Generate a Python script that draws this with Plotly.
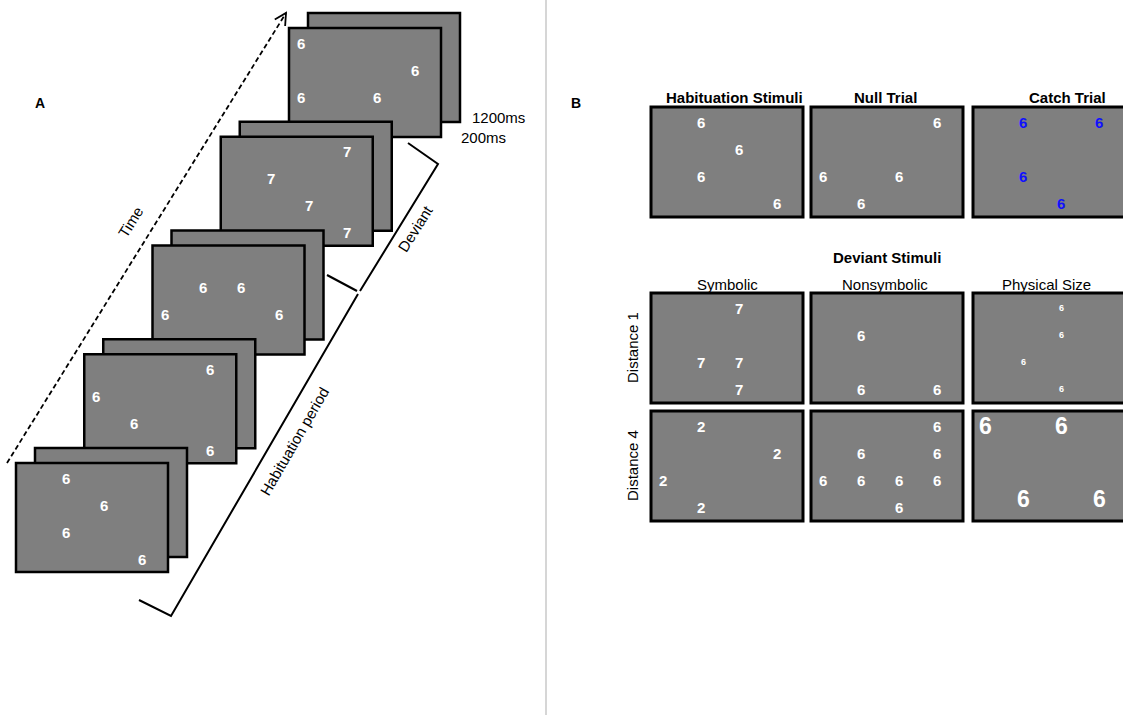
import math
import plotly.graph_objects as go

# ---------------- data ----------------
# Panel A: stimulus sequence (earliest frame first)
seq_digit = ["6", "6", "6", "7", "6"]
seq_cells = [
    [(1, 0), (2, 1), (1, 2), (3, 3)],
    [(3, 0), (0, 1), (1, 2), (3, 3)],
    [(1, 1), (2, 1), (0, 2), (3, 2)],
    [(3, 0), (1, 1), (2, 2), (3, 3)],
    [(0, 0), (3, 1), (0, 2), (2, 2)],
]
durations = ["1200ms", "200ms"]
bracket_labels = ["Deviant", "Habituation period"]
time_label = "Time"
panel_labels = ["A", "B"]

# Panel B: trial types
top_titles = ["Habituation Stimuli", "Null Trial", "Catch Trial"]
top_digit = ["6", "6", "6"]
top_cells = [
    [(1, 0), (2, 1), (1, 2), (3, 3)],
    [(3, 0), (0, 2), (2, 2), (1, 3)],
    [(1, 0), (3, 0), (1, 2), (2, 3)],
]
top_color = ["white", "white", "#1010ff"]

dev_title = "Deviant Stimuli"
dev_cols = ["Symbolic", "Nonsymbolic", "Physical Size"]
dev_rows = ["Distance 1", "Distance 4"]
dev_digit = [["7", "6", "6"], ["2", "6", "6"]]
dev_cells = [
    [[(2, 0), (1, 2), (2, 2), (2, 3)],
     [(1, 1), (1, 3), (3, 3)],
     [(2, 0), (2, 1), (1, 2), (2, 3)]],
    [[(1, 0), (3, 1), (0, 2), (1, 3)],
     [(3, 0), (1, 1), (3, 1), (0, 2), (1, 2), (2, 2), (3, 2), (2, 3)],
     [(0, 0), (2, 0), (1, 2.7), (3, 2.7)]],
]
dev_scale = [[1.0, 1.0, 0.6], [1.0, 1.0, 1.55]]

# ---------------- layout helpers ----------------
W, H = 1123, 715
FONT = "Liberation Sans, Arial, sans-serif"
GRAY = "#7f7f7f"
shapes, annots = [], []


def rect(x0, y0, w, h, lw=2.5):
    shapes.append(dict(type="rect", x0=x0, y0=y0, x1=x0 + w, y1=y0 + h,
                       xref="x", yref="y", fillcolor=GRAY,
                       line=dict(color="black", width=lw)))


def text(x, y, s, size=15, color="black", bold=False, angle=0):
    annots.append(dict(x=x, y=y, xref="x", yref="y", text=f"<b>{s}</b>" if bold else s,
                       showarrow=False, textangle=angle, xanchor="center", yanchor="middle",
                       font=dict(family=FONT, size=size, color=color)))


def poly(pts, width=2, dash=None):
    d = "M " + " L ".join(f"{x},{y}" for x, y in pts)
    ln = dict(color="black", width=width)
    if dash:
        ln["dash"] = dash
    shapes.append(dict(type="path", path=d, xref="x", yref="y", line=ln))


def cell(left, top, c, r):
    return left + 12 + 38 * c, top + 15 + 27 * r


FW, FH = 152, 109

# ---------------- Panel A ----------------
origins = [(16 + 68.25 * i, 463 - 108.75 * i) for i in range(len(seq_digit))]
for i in reversed(range(len(seq_digit))):
    fx, fy = origins[i]
    rect(fx + 19, fy - 15, FW, FH)
    rect(fx, fy, FW, FH)
for i, (fx, fy) in enumerate(origins):
    for c, r in seq_cells[i]:
        x, y = cell(fx, fy, c, r)
        text(x, y, seq_digit[i], size=15, color="white", bold=True)

# time arrow
x0, y0, x1, y1 = 7, 463, 286, 13
poly([(x0, y0), (x1, y1)], width=1.8, dash="5px,3px")
L = math.hypot(x1 - x0, y1 - y0)
ux, uy = (x0 - x1) / L, (y0 - y1) / L
wings = []
for a in (math.radians(28), math.radians(-28)):
    wx = ux * math.cos(a) - uy * math.sin(a)
    wy = ux * math.sin(a) + uy * math.cos(a)
    wings.append((x1 + 13 * wx, y1 + 13 * wy))
poly([wings[0], (x1, y1), wings[1]], width=1.8)
text(130, 222, time_label, size=15, angle=-58)

text(40, 103, panel_labels[0], size=14, bold=True)
text(498, 117, durations[0], size=15)
text(483, 137, durations[1], size=15)

# brackets
poly([(408, 143), (438, 164), (360, 291)], width=2)
poly([(327, 275), (357, 291)], width=2)
poly([(358, 294), (171, 616), (139, 600)], width=2)
text(415, 228, bracket_labels[0], size=15, angle=-58)
text(294, 441, bracket_labels[1], size=15, angle=-60)

# divider
shapes.append(dict(type="line", x0=546, x1=546, y0=0, y1=H, xref="x", yref="y",
                   line=dict(color="#c8c8c8", width=1.5)))

# ---------------- Panel B ----------------
text(576, 103, panel_labels[1], size=14, bold=True)
BW, BH = 152, 110
lefts = [651, 811, 973]
title_x = [734, 885, 1067]
for k in range(3):
    rect(lefts[k], 107, BW, BH, lw=3)
    text(title_x[k], 97, top_titles[k], size=15, bold=True)
    for c, r in top_cells[k]:
        x, y = cell(lefts[k], 107, c, r)
        text(x, y, top_digit[k], size=15, color=top_color[k], bold=True)

text(887, 257, dev_title, size=15, bold=True)
col_x = [727, 885, 1046]
row_top = [293, 411]
for k in range(3):
    text(col_x[k], 284, dev_cols[k], size=15)
for j in range(2):
    text(632, row_top[j] + BH / 2, dev_rows[j], size=15, angle=-90)
    for k in range(3):
        rect(lefts[k], row_top[j], BW, BH, lw=3)
        for c, r in dev_cells[j][k]:
            x, y = cell(lefts[k], row_top[j], c, r)
            text(x, y, dev_digit[j][k], size=round(15 * dev_scale[j][k]),
                 color="white", bold=True)

fig = go.Figure()
fig.update_layout(
    width=W, height=H, margin=dict(l=0, r=0, t=0, b=0),
    paper_bgcolor="white", plot_bgcolor="white",
    xaxis=dict(range=[0, W], visible=False, fixedrange=True),
    yaxis=dict(range=[H, 0], visible=False, fixedrange=True),
    shapes=shapes, annotations=annots, showlegend=False,
)
fig.write_html(
    "out.html",
    config={"displayModeBar": False, "staticPlot": True},
    post_script="document.body.style.margin='0';document.body.style.overflow='hidden';",
)
